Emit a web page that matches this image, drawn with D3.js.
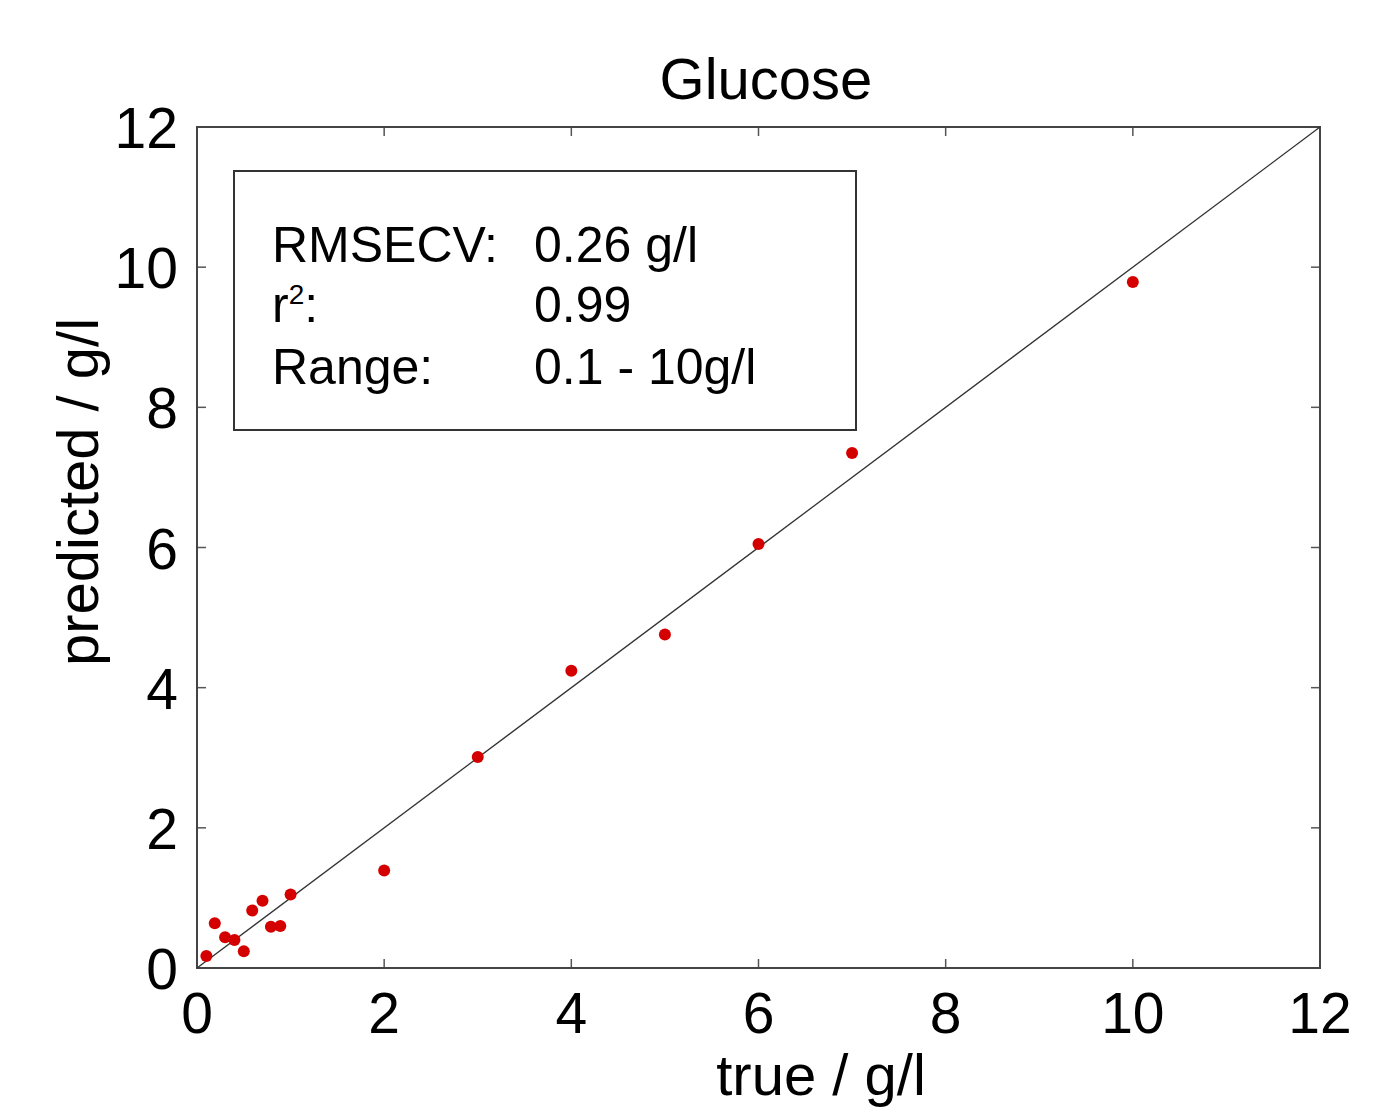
<!DOCTYPE html>
<html><head><meta charset="utf-8">
<script src="https://cdn.jsdelivr.net/npm/d3@7"></script>
<style>body{margin:0;background:#fff}svg{display:block}text{font-family:"Liberation Sans",Arial,sans-serif;fill:#000}</style>
</head><body><svg id="c" width="1387" height="1107"></svg>
<script>
const trueVals = [0.1,0.19,0.3,0.4,0.5,0.59,0.7,0.79,0.89,1.0,2.0,3.0,4.0,5.0,6.0,7.0,10.0];
const predVals = [0.17,0.64,0.44,0.40,0.24,0.82,0.96,0.59,0.60,1.05,1.39,3.01,4.24,4.76,6.05,7.35,9.79];
const xTicks = [0,2,4,6,8,10,12];
const yTicks = [0,2,4,6,8,10,12];
const legendLabels = ["RMSECV:","r²:","Range:"];
const legendValues = ["0.26 g/l","0.99","0.1 - 10g/l"];

const svg = d3.select("#c");
const L=197,R=1320,T=127,B=968;
const x=d3.scaleLinear().domain([0,12]).range([L,R]);
const y=d3.scaleLinear().domain([0,12]).range([B,T]);

const tk=9;
const g=svg.append("g");
xTicks.slice(1,-1).forEach(v=>{
  g.append("line").attr("x1",x(v)).attr("x2",x(v)).attr("y1",B).attr("y2",B-tk).attr("stroke","#555").attr("stroke-width",1.5);
  g.append("line").attr("x1",x(v)).attr("x2",x(v)).attr("y1",T).attr("y2",T+tk).attr("stroke","#555").attr("stroke-width",1.5);
});
yTicks.slice(1,-1).forEach(v=>{
  g.append("line").attr("y1",y(v)).attr("y2",y(v)).attr("x1",L).attr("x2",L+tk).attr("stroke","#555").attr("stroke-width",1.5);
  g.append("line").attr("y1",y(v)).attr("y2",y(v)).attr("x1",R).attr("x2",R-tk).attr("stroke","#555").attr("stroke-width",1.5);
});
svg.append("rect").attr("x",L).attr("y",T).attr("width",R-L).attr("height",B-T).attr("fill","none").attr("stroke","#444").attr("stroke-width",2);

svg.selectAll(".xl").data(xTicks).join("text").attr("x",d=>x(d)).attr("y",1033).attr("text-anchor","middle").attr("font-size",57).text(d=>d);
svg.selectAll(".yl").data(yTicks).join("text").attr("x",178).attr("y",d=>y(d)+21).attr("text-anchor","end").attr("font-size",57).text(d=>d);

svg.append("line").attr("x1",x(0)).attr("y1",y(0)).attr("x2",x(12)).attr("y2",y(12)).attr("stroke","#333").attr("stroke-width",1.3);

svg.selectAll("circle").data(trueVals.map((t,i)=>[t,predVals[i]])).join("circle")
  .attr("cx",d=>x(d[0])).attr("cy",d=>y(d[1])).attr("r",6).attr("fill","#d40000");

svg.append("rect").attr("x",234).attr("y",171).attr("width",622).attr("height",259).attr("fill","#fff").attr("stroke","#333").attr("stroke-width",2);
const base=[262,322,384];
legendLabels.forEach((t,i)=>{
  const tx=svg.append("text").attr("x",272).attr("y",base[i]).attr("font-size",50);
  if(t==="r²:"){tx.text("r");tx.append("tspan").attr("font-size",28).attr("dy",-18).text("2");tx.append("tspan").attr("dy",18).text(":");}
  else tx.text(t);
});
legendValues.forEach((t,i)=>svg.append("text").attr("x",534).attr("y",base[i]).attr("font-size",50).text(t));

svg.append("text").attr("x",766).attr("y",99).attr("text-anchor","middle").attr("font-size",58).text("Glucose");
svg.append("text").attr("x",821).attr("y",1095).attr("text-anchor","middle").attr("font-size",58).text("true / g/l");
svg.append("text").attr("transform","translate(98,492) rotate(-90)").attr("text-anchor","middle").attr("font-size",58).text("predicted / g/l");
</script></body></html>
